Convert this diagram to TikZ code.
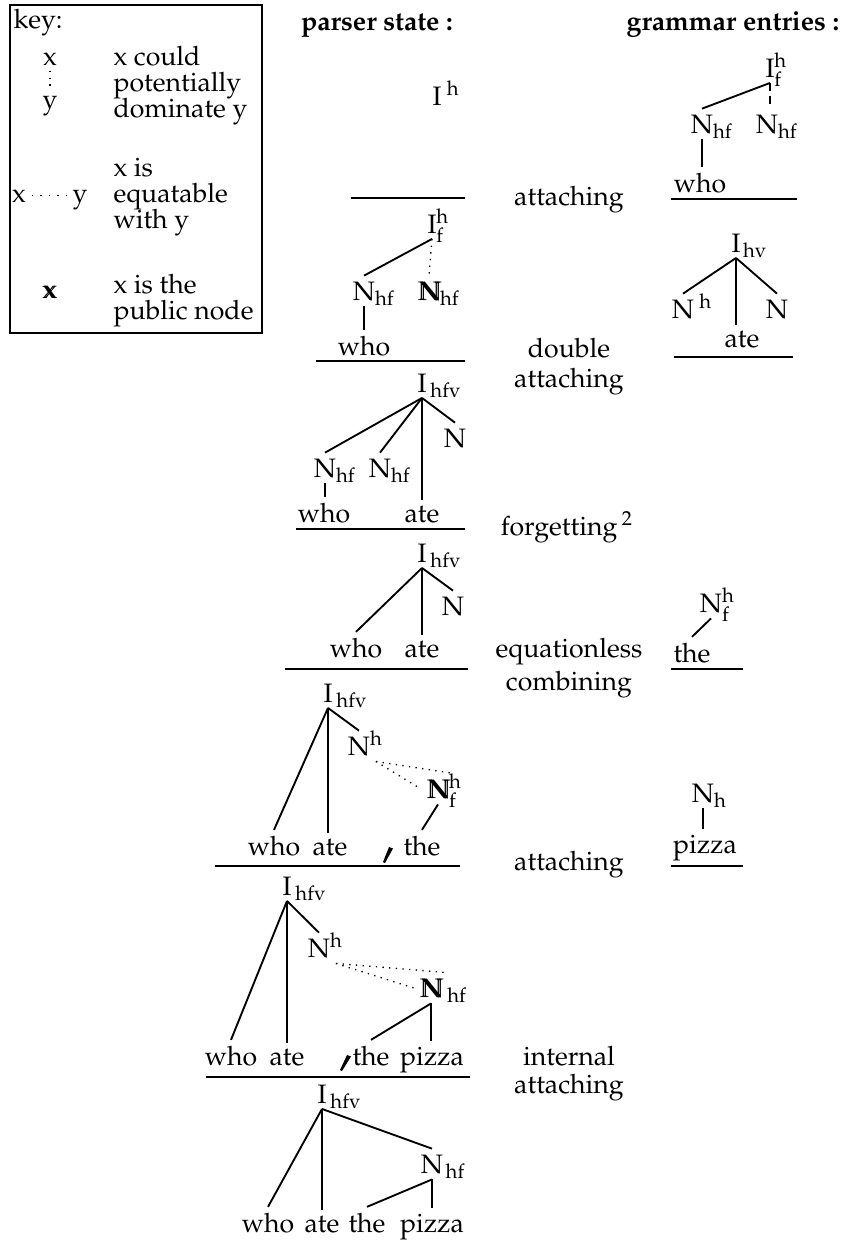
\documentclass[tikz,border=0pt]{standalone}
\usepackage[T1]{fontenc}
\usepackage{mathpazo}
\usepackage{tikz}

\newcommand{\sbs}[2][0pt]{\rlap{\kern#1$\smash{{}_{\mathrm{#2}}}$}}
\newcommand{\sps}[2][0pt]{\rlap{\kern#1$\smash{{}^{\mathrm{#2}}}$}}
\newcommand{\sbp}[2]{\rlap{$\smash{{}^{\mathrm{#1}}_{\mathrm{#2}}}$}}
\newcommand{\pub}[1]{\rlap{\kern0.7pt#1}#1}

\tikzset{
  cat/.style={inner sep=2pt, anchor=base},
  wd/.style={inner sep=2pt, anchor=base},
  lbl/.style={anchor=base},
  kt/.style={anchor=base west, inner sep=0pt},
  br/.style={line width=0.7pt},
  pot/.style={dotted, line width=0.5pt},
  eqt/.style={line width=0.5pt, dash pattern=on 0.6pt off 2.6pt},
  opt/.style={line width=0.5pt, dash pattern=on 3pt off 2pt},
  rul/.style={line width=0.8pt}
}

\begin{document}
\begin{tikzpicture}[x=0.375pt, y=-0.375pt]
\useasboundingbox (0,0) rectangle (851,1247);

% key
\draw[line width=0.5pt] (10,5) rectangle (262,333);
\node[kt] (key) at (13,28) {key:};
\node[cat] (kx1) at (50,65) {x};
\node[cat] (ky1) at (50,108) {y};
\draw[pot] (kx1.south) -- (ky1.north);
\node[kt] (kd1) at (113,65) {x could};
\node[kt] (kd2) at (113,91) {potentially};
\node[kt] (kd3) at (113,117) {dominate y};
\node[cat] (kx2) at (19,202) {x};
\node[cat] (ky2) at (80,202) {y};
\draw[eqt] (kx2.east) -- (kx2.east -| ky2.west);
\node[kt] (ke1) at (113,176) {x is};
\node[kt] (ke2) at (113,202) {equatable};
\node[kt] (ke3) at (113,228) {with y};
\node[cat] (kx3) at (49,298) {\pub{x}};
\node[kt] (kp1) at (113,293) {x is the};
\node[kt] (kp2) at (113,319) {public node};

% headings
\node[lbl] (hdp) at (377,30) {\textbf{parser state :}};
\node[lbl] (hdg) at (733,30) {\textbf{grammar entries :}};

% operations
\node[lbl] (op1) at (569,205) {attaching};
\node[lbl] (op2a) at (569,357) {double};
\node[lbl] (op2b) at (569,387) {attaching};
\node[lbl] (op3) at (567,535) {forgetting\,$^{2}$};
\node[lbl] (op4a) at (569,657) {equationless};
\node[lbl] (op4b) at (569,690) {combining};
\node[lbl] (op5) at (569,870) {attaching};
\node[lbl] (op6a) at (569,1065) {internal};
\node[lbl] (op6b) at (569,1093) {attaching};

% parser states
\node[cat] (I0) at (437,105) {I\sps[2pt]{h}};
\draw[rul] (351,198) -- (465,198);

\node[cat] (I1) at (432,233) {I\sbp{h}{f}};
\node[cat] (N1a) at (364,300) {N\sbs{hf}};
\node[cat] (N1b) at (429,300) {\pub{N}\sbs{hf}};
\node[wd] (who1) at (364,355) {who};
\draw[br] (I1.south) -- (N1a.north);
\draw[pot] (I1.south) -- (N1b.north);
\draw[br] (N1a.south) -- (who1.north);
\draw[rul] (316,361) -- (465,361);

\node[cat] (I2) at (422,392) {I\sbs[1.5pt]{hfv}};
\node[cat] (N2a) at (325,477) {N\sbs{hf}};
\node[cat] (N2b) at (380,477) {N\sbs{hf}};
\node[cat] (N2c) at (455,447) {N};
\node[wd] (who2) at (324,522) {who};
\node[wd] (ate2) at (422,522) {ate};
\draw[br] (I2.south) -- (N2a.north);
\draw[br] (I2.south) -- (N2b.north);
\draw[br] (I2.south) -- (I2.south |- ate2.north);
\draw[br] (I2.south) -- (N2c.north);
\draw[br] (N2a.south) -- (N2a.south |- who2.north);
\draw[rul] (296,529) -- (465,529);

\node[cat] (I3) at (422,562) {I\sbs[1.5pt]{hfv}};
\node[cat] (N3) at (453,615) {N};
\node[wd] (who3) at (356,657) {who};
\node[wd] (ate3) at (422,657) {ate};
\draw[br] (I3.south) -- (who3.north);
\draw[br] (I3.south) -- (I3.south |- ate3.north);
\draw[br] (I3.south) -- (N3.north);
\draw[rul] (285,669) -- (468,669);

\node[cat] (I4) at (328,702) {I\sbs[1.5pt]{hfv}};
\node[cat] (N4a) at (359,755) {N\sps{h}};
\node[cat] (N4b) at (438,798) {\pub{N}\sbp{h}{f}};
\node[wd] (who4) at (274,855) {who};
\node[wd] (ate4) at (330,855) {ate};
\node[wd] (the4) at (422,855) {the};
\draw[br] (I4.south) -- (who4.north);
\draw[br] (I4.south) -- (I4.south |- ate4.north);
\draw[br] (I4.south) -- (N4a.north);
\draw[pot] (N4a.south east) -- (N4b.north east);
\draw[pot] (N4a.south east) -- (N4b.west);
\draw[br] (N4b.south) -- (the4.north);
\fill (389,847) -- (393,848.5) -- (385,863) -- (383,862) -- cycle;
\draw[rul] (215,866) -- (460,866);

\node[cat] (I5) at (287,895) {I\sbs[1.5pt]{hfv}};
\node[cat] (N5a) at (319,957) {N\sps{h}};
\node[cat] (N5b) at (431,997) {\pub{N}\sbs[2pt]{hf}};
\node[wd] (who5) at (231,1065) {who};
\node[wd] (ate5) at (287,1065) {ate};
\node[wd] (the5) at (371,1065) {the};
\node[wd] (piz5) at (432,1065) {pizza};
\draw[br] (I5.south) -- (who5.north);
\draw[br] (I5.south) -- (I5.south |- ate5.north);
\draw[br] (I5.south) -- (N5a.north);
\draw[pot] (N5a.south east) -- (N5b.north east);
\draw[pot] (N5a.south east) -- (N5b.west);
\draw[br] (N5b.south) -- (the5.north);
\draw[br] (N5b.south) -- (N5b.south |- piz5.north);
\fill (347,1055) -- (351,1056.5) -- (342,1071) -- (340,1070) -- cycle;
\draw[rul] (206,1077) -- (470,1077);

\node[cat] (I6) at (322,1103) {I\sbs[1.5pt]{hfv}};
\node[cat] (N6) at (432,1173) {N\sbs[1pt]{hf}};
\node[wd] (who6) at (268,1232) {who};
\node[wd] (ate6) at (322,1232) {ate};
\node[wd] (the6) at (367,1232) {the};
\node[wd] (piz6) at (432,1232) {pizza};
\draw[br] (I6.south) -- (who6.north);
\draw[br] (I6.south) -- (I6.south |- ate6.north);
\draw[br] (I6.south) -- (N6.north);
\draw[br] (N6.south) -- (the6.north);
\draw[br] (N6.south) -- (N6.south |- piz6.north);

% grammar entries
\node[cat] (gI1) at (770,77) {I\sbp{h}{f}};
\node[cat] (gN1a) at (702,133) {N\sbs{hf}};
\node[cat] (gN1b) at (767,133) {N\sbs{hf}};
\node[wd] (gwho) at (700,192) {who};
\draw[br] (gI1.south) -- (gN1a.north);
\draw[opt] (gI1.south) -- (gI1.south |- gN1b.north);
\draw[br] (gN1a.south) -- (gN1a.south |- gwho.north);
\draw[rul] (671,199) -- (797,199);

\node[cat] (gI2) at (736,252) {I\sbs[1pt]{hv}};
\node[cat] (gN2a) at (683,318) {N\sps[2pt]{h}};
\node[cat] (gN2b) at (777,318) {N};
\node[wd] (gate) at (742,347) {ate};
\draw[br] (gI2.south) -- (gN2a.north);
\draw[br] (gI2.south) -- (gI2.south |- gate.north);
\draw[br] (gI2.south) -- (gN2b.north);
\draw[rul] (674,357) -- (793,357);

\node[cat] (gN3) at (711,612) {N\sbp{h}{f}};
\node[wd] (gthe) at (692,662) {the};
\draw[br] (gN3.south) -- (gthe.north);
\draw[rul] (671,669) -- (743,669);

\node[cat] (gN4) at (703,802) {N\sbs{h}};
\node[wd] (gpiz) at (705,853) {pizza};
\draw[br] (gN4.south) -- (gN4.south |- gpiz.north);
\draw[rul] (671,866) -- (743,866);
\end{tikzpicture}
\end{document}
